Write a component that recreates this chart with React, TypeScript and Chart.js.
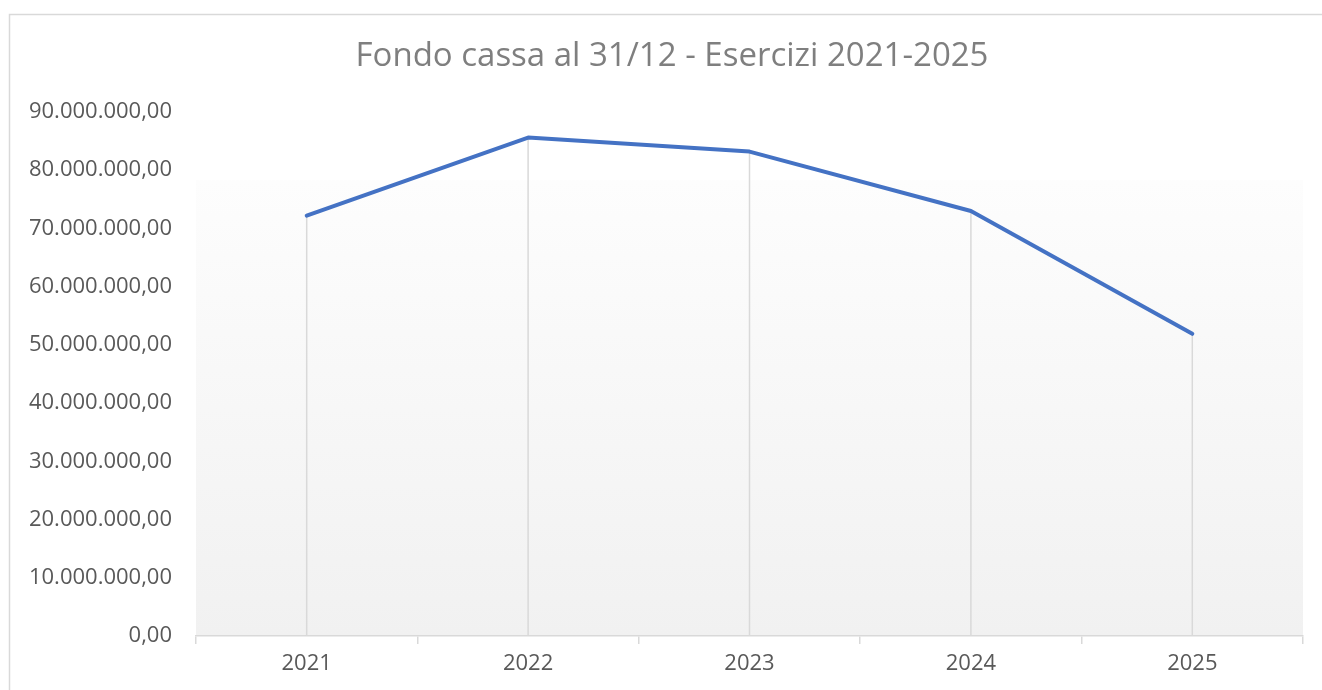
import React, { useEffect, useRef } from "react";
import { Chart, registerables } from "chart.js";

Chart.register(...registerables);

const titleText = "Fondo cassa al 31/12 - Esercizi 2021-2025";
const years = ["2021", "2022", "2023", "2024", "2025"];
const fondoCassa = [72200000, 85600000, 83200000, 73000000, 51900000];
const yMax = 90000000;
const yStep = 10000000;

const FONT = "'Open Sans', 'Liberation Sans', sans-serif";

function formatIt(v: number): string {
  const parts = Math.round(v).toString().replace(/\B(?=(\d{3})+(?!\d))/g, ".");
  return parts + ",00";
}

const framePlugin = {
  id: "framePlugin",
  beforeDraw(chart: any) {
    const { ctx, chartArea } = chart;
    ctx.save();
    ctx.fillStyle = "#ffffff";
    ctx.fillRect(0, 0, chart.width, chart.height);
    // outer chart border
    ctx.strokeStyle = "#d9d9d9";
    ctx.lineWidth = 1.5;
    ctx.strokeRect(9.5, 14.5, chart.width + 50, chart.height + 50);
    // plot area gradient
    const top = chartArea.top + (chartArea.bottom - chartArea.top) * 0.13;
    const g = ctx.createLinearGradient(0, top, 0, chartArea.bottom);
    g.addColorStop(0, "#fdfdfd");
    g.addColorStop(1, "#f1f1f1");
    ctx.fillStyle = g;
    ctx.fillRect(chartArea.left, top, chartArea.right - chartArea.left, chartArea.bottom - top);
    // title
    ctx.fillStyle = "#7f7f7f";
    ctx.font = `33px ${FONT}`;
    ctx.textAlign = "center";
    ctx.textBaseline = "middle";
    ctx.fillText(titleText, 672, 57);
    ctx.restore();
  },
  beforeDatasetsDraw(chart: any) {
    const { ctx, scales } = chart;
    const meta = chart.getDatasetMeta(0);
    ctx.save();
    ctx.strokeStyle = "#d9d9d9";
    ctx.lineWidth = 1.5;
    const y0 = scales.y.getPixelForValue(0);
    meta.data.forEach((pt: any) => {
      ctx.beginPath();
      ctx.moveTo(pt.x, pt.y);
      ctx.lineTo(pt.x, y0);
      ctx.stroke();
    });
    ctx.restore();
  },
};

export default function App() {
  const canvasRef = useRef<HTMLCanvasElement | null>(null);

  useEffect(() => {
    document.body.style.margin = "0";
    const canvas = canvasRef.current;
    if (!canvas) return;
    const chart = new Chart(canvas, {
      type: "line",
      data: {
        labels: years,
        datasets: [
          {
            label: "Fondo cassa",
            data: fondoCassa,
            borderColor: "#4472C4",
            borderWidth: 4,
            pointRadius: 0,
            tension: 0,
            fill: false,
            borderCapStyle: "round",
            borderJoinStyle: "round",
          },
        ],
      },
      options: {
        responsive: false,
        animation: false,
        layout: { padding: { left: 10, right: 19, top: 112, bottom: 0 } },
        plugins: {
          legend: { display: false },
          title: { display: false },
          tooltip: { enabled: false },
        },
        scales: {
          x: {
            offset: true,
            grid: {
              offset: true,
              drawOnChartArea: false,
              drawTicks: true,
              tickLength: 8,
              color: "#d9d9d9",
              lineWidth: 1.5,
            },
            border: { display: true, color: "#d9d9d9", width: 1.5 },
            ticks: {
              color: "#595959",
              font: { family: FONT, size: 22 },
              padding: 7,
            },
            afterFit(scale: any) {
              scale.height = 54;
            },
          },
          y: {
            min: 0,
            max: yMax,
            ticks: {
              stepSize: yStep,
              color: "#595959",
              font: { family: FONT, size: 22 },
              padding: 24,
              callback: (v: any) => formatIt(Number(v)),
            },
            grid: { display: false, drawTicks: false },
            border: { display: false },
            afterFit(scale: any) {
              scale.width = 186;
            },
          },
        },
      },
      plugins: [framePlugin],
    });
    return () => chart.destroy();
  }, []);

  return (
    <div style={{ width: 1322, height: 690 }}>
      <canvas ref={canvasRef} width={1322} height={690} style={{ display: "block" }} />
    </div>
  );
}
